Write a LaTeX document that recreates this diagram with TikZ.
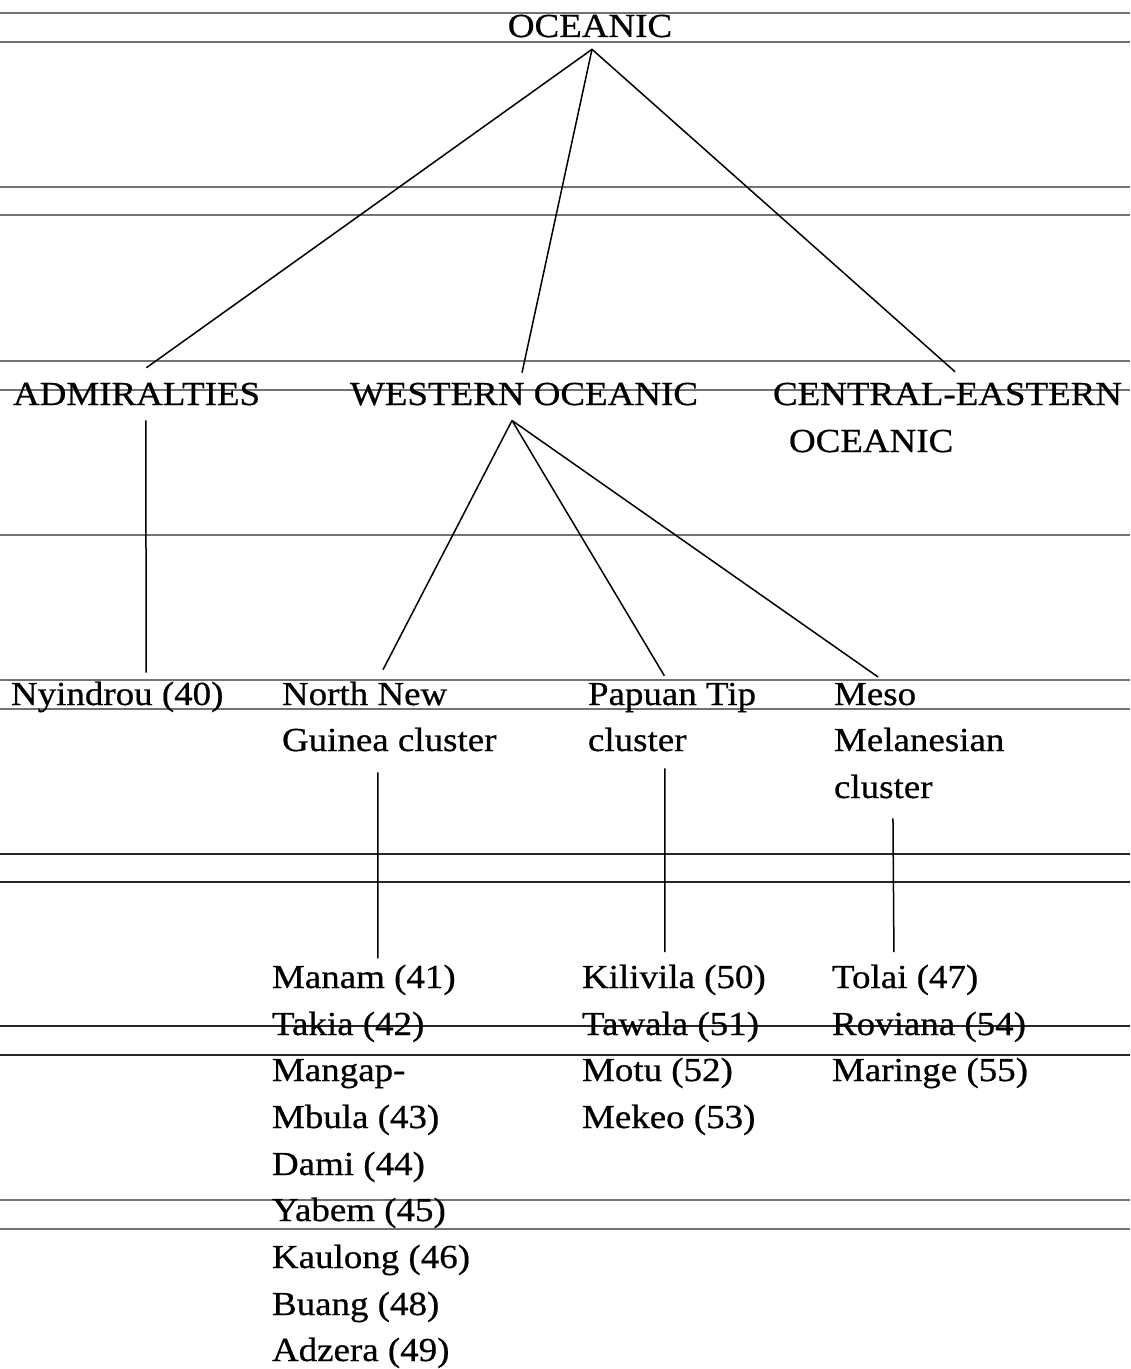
\documentclass[tikz,border=0pt]{standalone}
\usepackage{fontspec}
\setmainfont{Liberation Serif}[FakeStretch=1.1,FakeBold=0.6]
\begin{document}
\begin{tikzpicture}[x=0.5pt,y=-0.5pt,
  lang/.style={inner sep=0pt, outer sep=0pt, anchor=base west,
    font=\fontsize{16.8pt}{20pt}\selectfont},
  branch/.style={line width=0.75pt, black},
  scanline/.style={line width=0.75pt, black!55},
  scanlinedark/.style={line width=0.75pt, black!85}]
\useasboundingbox (0,0) rectangle (1130,1369);
\fill[white] (0,0) rectangle (1130,1369);

% ruled lines across the page
\foreach \y in {13,42,187,215,361,390,535,680,709,1200,1229}
  \draw[scanline] (0,\y) -- (1130,\y);
\foreach \y in {854,882,1026,1055}
  \draw[scanlinedark] (0,\y) -- (1130,\y);

% top level
\node[lang, anchor=base] (oceanic) at (590,37) {OCEANIC};

% first split
\node[lang] (admiralties) at (13,405) {ADMIRALTIES};
\node[lang] (western) at (350,405) {WESTERN OCEANIC};
\node[lang] (central) at (773,405) {CENTRAL-EASTERN};
\node[lang] (central2) at (789,452) {OCEANIC};

% second level
\node[lang] (nyindrou) at (11,705) {Nyindrou (40)};
\node[lang] (nng) at (282,705) {North New};
\node[lang] (nng2) at (282,751) {Guinea cluster};
\node[lang] (papuan) at (588,705) {Papuan Tip};
\node[lang] (papuan2) at (588,751) {cluster};
\node[lang] (meso) at (834,705) {Meso};
\node[lang] (meso2) at (834,751) {Melanesian};
\node[lang] (meso3) at (834,798) {cluster};

% North New Guinea languages
\node[lang] (manam) at (272,988) {Manam (41)};
\node[lang] (takia) at (272,1035) {Takia (42)};
\node[lang] (mangap) at (272,1081) {Mangap-};
\node[lang] (mbula) at (272,1128) {Mbula (43)};
\node[lang] (dami) at (272,1175) {Dami (44)};
\node[lang] (yabem) at (272,1221) {Yabem (45)};
\node[lang] (kaulong) at (272,1268) {Kaulong (46)};
\node[lang] (buang) at (272,1315) {Buang (48)};
\node[lang] (adzera) at (272,1361) {Adzera (49)};

% Papuan Tip languages
\node[lang] (kilivila) at (582,988) {Kilivila (50)};
\node[lang] (tawala) at (582,1035) {Tawala (51)};
\node[lang] (motu) at (582,1081) {Motu (52)};
\node[lang] (mekeo) at (582,1128) {Mekeo (53)};

% Meso Melanesian languages
\node[lang] (tolai) at (832,988) {Tolai (47)};
\node[lang] (roviana) at (832,1035) {Roviana (54)};
\node[lang] (maringe) at (832,1081) {Maringe (55)};

% branches from OCEANIC
\draw[branch] ([xshift=4.9pt,yshift=7.5pt]admiralties.north)
  -- ([xshift=1pt,yshift=-6pt]oceanic.south)
  -- ([xshift=3.75pt,yshift=5.5pt]central.north);
\draw[branch] ([xshift=1pt,yshift=-6pt]oceanic.south)
  -- ([xshift=-1pt,yshift=5pt]western.north);

% ADMIRALTIES
\draw[branch] ([xshift=4.6pt,yshift=-7.5pt]admiralties.south)
  -- ([xshift=14.5pt,yshift=4.5pt]nyindrou.north);

% branches from WESTERN OCEANIC
\draw[branch] ([xshift=-6pt,yshift=-7.5pt]western.south)
  -- ([xshift=9.2pt,yshift=6pt]nng.north);
\draw[branch] ([xshift=-6pt,yshift=-7.5pt]western.south)
  -- ([xshift=-3.85pt,yshift=3.5pt]papuan.north);
\draw[branch] ([xshift=-6pt,yshift=-7.5pt]western.south)
  -- ([xshift=1.5pt,yshift=3pt]meso.north);

% clusters to their languages
\draw[branch] ([xshift=-5.65pt,yshift=-10.5pt]nng2.south)
  -- ([xshift=7pt,yshift=3.2pt]manam.north);
\draw[branch] ([xshift=13.85pt,yshift=-8.5pt]papuan2.south)
  -- ([xshift=-4.45pt,yshift=6.25pt]kilivila.north);
\draw[branch] ([xshift=4.85pt,yshift=-10pt]meso3.south)
  -- ([xshift=-5.6pt,yshift=6.25pt]tolai.north);
\end{tikzpicture}
\end{document}
